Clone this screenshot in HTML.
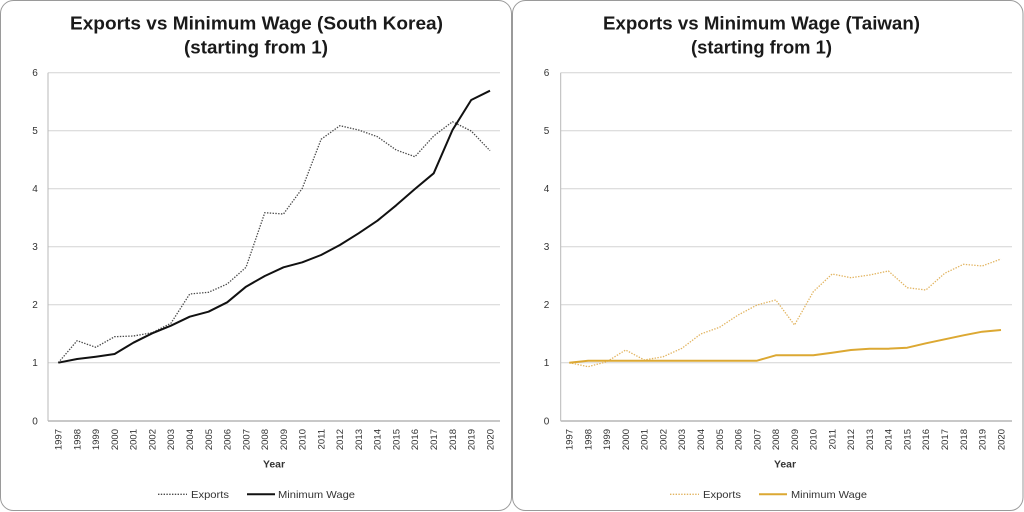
<!DOCTYPE html>
<html>
<head>
<meta charset="utf-8">
<style>
html,body{margin:0;padding:0;background:#fff;}
body{width:1024px;height:512px;overflow:hidden;}
svg{display:block;}
text{font-family:"Liberation Sans",sans-serif;}
</style>
</head>
<body>
<svg width="1024" height="512" viewBox="0 0 1024 512" xmlns="http://www.w3.org/2000/svg">
  <rect x="0" y="0" width="1024" height="512" fill="#fff"/>
  <!-- panels -->
  <rect x="0.5" y="0.5" width="511" height="510" rx="13" ry="13" fill="#fff" stroke="#9a9a9a" stroke-width="1"/>
  <rect x="512.5" y="0.5" width="510.5" height="510" rx="13" ry="13" fill="#fff" stroke="#9a9a9a" stroke-width="1"/>

  <!-- ===== LEFT CHART ===== -->
  <text x="256.5" y="29.3" text-anchor="middle" font-size="18" font-weight="bold" fill="#1a1a1a" textLength="373" lengthAdjust="spacingAndGlyphs">Exports vs Minimum Wage (South Korea)</text>
  <text x="256" y="53.5" text-anchor="middle" font-size="18" font-weight="bold" fill="#1a1a1a" textLength="144" lengthAdjust="spacingAndGlyphs">(starting from 1)</text>

  <g stroke="#d4d4d4" stroke-width="1">
    <line x1="48" y1="72.7" x2="500" y2="72.7"/>
    <line x1="48" y1="130.7" x2="500" y2="130.7"/>
    <line x1="48" y1="188.7" x2="500" y2="188.7"/>
    <line x1="48" y1="246.7" x2="500" y2="246.7"/>
    <line x1="48" y1="304.7" x2="500" y2="304.7"/>
    <line x1="48" y1="362.7" x2="500" y2="362.7"/>
  </g>
  <line x1="48" y1="421" x2="500" y2="421" stroke="#a8a8a8" stroke-width="1.2"/>
  <line x1="48" y1="72.7" x2="48" y2="421" stroke="#b8b8b8" stroke-width="1"/>

  <g font-size="10" fill="#333" text-anchor="middle">
    <text x="35" y="76.2">6</text>
    <text x="35" y="134.2">5</text>
    <text x="35" y="192.2">4</text>
    <text x="35" y="250.2">3</text>
    <text x="35" y="308.2">2</text>
    <text x="35" y="366.2">1</text>
    <text x="35" y="424.5">0</text>
  </g>

  <g font-size="9.5" fill="#333" text-anchor="end">
    <text transform="translate(61.6,429) rotate(-90)">1997</text>
    <text transform="translate(80.4,429) rotate(-90)">1998</text>
    <text transform="translate(99.1,429) rotate(-90)">1999</text>
    <text transform="translate(117.9,429) rotate(-90)">2000</text>
    <text transform="translate(136.7,429) rotate(-90)">2001</text>
    <text transform="translate(155.5,429) rotate(-90)">2002</text>
    <text transform="translate(174.2,429) rotate(-90)">2003</text>
    <text transform="translate(193.0,429) rotate(-90)">2004</text>
    <text transform="translate(211.8,429) rotate(-90)">2005</text>
    <text transform="translate(230.5,429) rotate(-90)">2006</text>
    <text transform="translate(249.3,429) rotate(-90)">2007</text>
    <text transform="translate(268.1,429) rotate(-90)">2008</text>
    <text transform="translate(286.8,429) rotate(-90)">2009</text>
    <text transform="translate(305.6,429) rotate(-90)">2010</text>
    <text transform="translate(324.4,429) rotate(-90)">2011</text>
    <text transform="translate(343.2,429) rotate(-90)">2012</text>
    <text transform="translate(361.9,429) rotate(-90)">2013</text>
    <text transform="translate(380.7,429) rotate(-90)">2014</text>
    <text transform="translate(399.5,429) rotate(-90)">2015</text>
    <text transform="translate(418.2,429) rotate(-90)">2016</text>
    <text transform="translate(437.0,429) rotate(-90)">2017</text>
    <text transform="translate(455.8,429) rotate(-90)">2018</text>
    <text transform="translate(474.5,429) rotate(-90)">2019</text>
    <text transform="translate(493.3,429) rotate(-90)">2020</text>
  </g>
  <text x="274" y="467.5" text-anchor="middle" font-size="10.5" font-weight="bold" fill="#333" textLength="22" lengthAdjust="spacingAndGlyphs">Year</text>

  <!-- exports dotted -->
  <polyline fill="none" stroke="#4a4a4a" stroke-width="1.3" stroke-dasharray="1.4,1.4"
    points="58.3,362.7 77.1,340.7 95.8,347.3 114.6,336.7 133.4,336.0 152.2,332.7 170.9,323.3 189.7,294.0 208.5,292.3 227.2,284.0 246.0,267.3 264.8,212.7 283.5,214.0 302.3,188.3 321.1,139.3 339.9,125.7 358.6,130.0 377.4,136.7 396.2,150.0 414.9,156.7 433.7,136.0 452.5,121.7 471.2,131.0 490.0,150.7"/>
  <!-- min wage solid -->
  <polyline fill="none" stroke="#111" stroke-width="2" stroke-linejoin="round"
    points="58.3,362.7 77.1,359.0 95.8,356.7 114.6,354.0 133.4,342.7 152.2,333.3 170.9,325.7 189.7,316.7 208.5,311.7 227.2,302.3 246.0,286.7 264.8,276.0 283.5,267.3 302.3,262.3 321.1,255.0 339.9,245.0 358.6,233.3 377.4,220.7 396.2,205.3 414.9,189.0 433.7,173.3 452.5,130.0 471.2,100.0 490.0,90.7"/>

  <!-- legend -->
  <line x1="158" y1="494.3" x2="187" y2="494.3" stroke="#4a4a4a" stroke-width="1.3" stroke-dasharray="1.4,1.4"/>
  <text x="191" y="498" font-size="10.5" fill="#333" textLength="38" lengthAdjust="spacingAndGlyphs">Exports</text>
  <line x1="247" y1="494.3" x2="275" y2="494.3" stroke="#111" stroke-width="2"/>
  <text x="278" y="498" font-size="10.5" fill="#333" textLength="77" lengthAdjust="spacingAndGlyphs">Minimum Wage</text>

  <!-- ===== RIGHT CHART ===== -->
  <text x="761.5" y="29.3" text-anchor="middle" font-size="18" font-weight="bold" fill="#1a1a1a" textLength="317" lengthAdjust="spacingAndGlyphs">Exports vs Minimum Wage (Taiwan)</text>
  <text x="761.5" y="53.5" text-anchor="middle" font-size="18" font-weight="bold" fill="#1a1a1a" textLength="141" lengthAdjust="spacingAndGlyphs">(starting from 1)</text>

  <g stroke="#d4d4d4" stroke-width="1">
    <line x1="560.7" y1="72.7" x2="1012" y2="72.7"/>
    <line x1="560.7" y1="130.7" x2="1012" y2="130.7"/>
    <line x1="560.7" y1="188.7" x2="1012" y2="188.7"/>
    <line x1="560.7" y1="246.7" x2="1012" y2="246.7"/>
    <line x1="560.7" y1="304.7" x2="1012" y2="304.7"/>
    <line x1="560.7" y1="362.7" x2="1012" y2="362.7"/>
  </g>
  <line x1="560.7" y1="421" x2="1012" y2="421" stroke="#a8a8a8" stroke-width="1.2"/>
  <line x1="560.7" y1="72.7" x2="560.7" y2="421" stroke="#b8b8b8" stroke-width="1"/>

  <g font-size="10" fill="#333" text-anchor="middle">
    <text x="546.5" y="76.2">6</text>
    <text x="546.5" y="134.2">5</text>
    <text x="546.5" y="192.2">4</text>
    <text x="546.5" y="250.2">3</text>
    <text x="546.5" y="308.2">2</text>
    <text x="546.5" y="366.2">1</text>
    <text x="546.5" y="424.5">0</text>
  </g>

  <g font-size="9.5" fill="#333" text-anchor="end">
    <text transform="translate(572.6,429) rotate(-90)">1997</text>
    <text transform="translate(591.4,429) rotate(-90)">1998</text>
    <text transform="translate(610.1,429) rotate(-90)">1999</text>
    <text transform="translate(628.9,429) rotate(-90)">2000</text>
    <text transform="translate(647.7,429) rotate(-90)">2001</text>
    <text transform="translate(666.5,429) rotate(-90)">2002</text>
    <text transform="translate(685.2,429) rotate(-90)">2003</text>
    <text transform="translate(704.0,429) rotate(-90)">2004</text>
    <text transform="translate(722.8,429) rotate(-90)">2005</text>
    <text transform="translate(741.5,429) rotate(-90)">2006</text>
    <text transform="translate(760.3,429) rotate(-90)">2007</text>
    <text transform="translate(779.1,429) rotate(-90)">2008</text>
    <text transform="translate(797.8,429) rotate(-90)">2009</text>
    <text transform="translate(816.6,429) rotate(-90)">2010</text>
    <text transform="translate(835.4,429) rotate(-90)">2011</text>
    <text transform="translate(854.2,429) rotate(-90)">2012</text>
    <text transform="translate(872.9,429) rotate(-90)">2013</text>
    <text transform="translate(891.7,429) rotate(-90)">2014</text>
    <text transform="translate(910.5,429) rotate(-90)">2015</text>
    <text transform="translate(929.2,429) rotate(-90)">2016</text>
    <text transform="translate(948.0,429) rotate(-90)">2017</text>
    <text transform="translate(966.8,429) rotate(-90)">2018</text>
    <text transform="translate(985.5,429) rotate(-90)">2019</text>
    <text transform="translate(1004.3,429) rotate(-90)">2020</text>
  </g>
  <text x="785" y="467.5" text-anchor="middle" font-size="10.5" font-weight="bold" fill="#333" textLength="22" lengthAdjust="spacingAndGlyphs">Year</text>

  <!-- exports dotted gold -->
  <polyline fill="none" stroke="#e2b460" stroke-width="1.3" stroke-dasharray="1.4,1.4"
    points="569.3,362.7 588.1,366.7 606.8,361.7 625.6,350.0 644.4,360.0 663.2,356.7 681.9,348.3 700.7,334.0 719.5,327.3 738.2,315.0 757.0,305.0 775.8,300.0 794.5,325.0 813.3,291.7 832.1,274.0 850.9,277.7 869.6,275.0 888.4,271.0 907.2,287.7 925.9,290.0 944.7,273.3 963.5,264.3 982.2,266.0 1001.0,259.0"/>
  <!-- min wage solid gold -->
  <polyline fill="none" stroke="#dca832" stroke-width="2" stroke-linejoin="round"
    points="569.3,362.7 588.1,360.7 606.8,360.7 625.6,360.7 644.4,360.7 663.2,360.7 681.9,360.7 700.7,360.7 719.5,360.7 738.2,360.7 757.0,360.7 775.8,355.3 794.5,355.3 813.3,355.3 832.1,352.7 850.9,350.0 869.6,348.7 888.4,348.7 907.2,347.7 925.9,343.3 944.7,339.3 963.5,335.3 982.2,331.7 1001.0,330.0"/>

  <!-- legend -->
  <line x1="670" y1="494.3" x2="699" y2="494.3" stroke="#e2b460" stroke-width="1.3" stroke-dasharray="1.4,1.4"/>
  <text x="703" y="498" font-size="10.5" fill="#333" textLength="38" lengthAdjust="spacingAndGlyphs">Exports</text>
  <line x1="759" y1="494.3" x2="787" y2="494.3" stroke="#dca832" stroke-width="2"/>
  <text x="791" y="498" font-size="10.5" fill="#333" textLength="76" lengthAdjust="spacingAndGlyphs">Minimum Wage</text>
</svg>
</body>
</html>
